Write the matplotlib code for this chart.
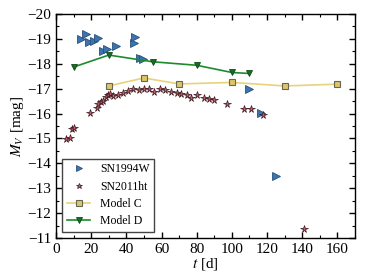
import matplotlib
matplotlib.use("Agg")
import matplotlib.pyplot as plt
from matplotlib.ticker import MultipleLocator

plt.rcParams['font.family'] = ['Liberation Serif', 'DejaVu Serif']
plt.rcParams['mathtext.fontset'] = 'stix'

# SN1994W
t_94w = [14.2, 17.0, 18.9, 21.5, 23.7, 26.5, 28.9, 34.1, 44.1, 45.0, 47.8, 49.5, 109.6, 116.3, 124.9]
m_94w = [-18.98, -19.19, -18.88, -18.92, -19.02, -18.52, -18.59, -18.71, -18.84, -19.06, -18.25, -18.19,
         -17.0, -16.02, -13.48]

# SN2011ht
t_11ht = [5.7, 8.1, 8.9, 10.4, 19.3, 23.1, 24.0, 25.5, 26.5, 28.4, 29.3, 30.8, 32.5, 35.0, 37.8,
          40.7, 43.9, 47.3, 50.1, 53.0, 55.8, 59.0, 61.9, 65.1, 68.5, 71.0, 74.2, 77.0, 79.9,
          84.0, 87.0, 89.7, 97.2, 106.7, 111.1, 117.7, 141.3]
m_11ht = [-14.96, -15.03, -15.36, -15.40, -16.04, -16.24, -16.37, -16.46, -16.50, -16.67, -16.73,
          -16.77, -16.71, -16.76, -16.84, -16.91, -16.98, -16.94, -16.98, -16.98, -16.87, -16.98,
          -16.96, -16.87, -16.83, -16.80, -16.76, -16.63, -16.73, -16.63, -16.60, -16.53, -16.37,
          -16.20, -16.20, -15.93, -11.38]

# Model C
t_c = [30, 50, 70, 100, 130, 160]
m_c = [-17.11, -17.43, -17.19, -17.25, -17.11, -17.18]

# Model D
t_d = [10, 30, 55, 80, 100, 110]
m_d = [-17.87, -18.35, -18.08, -17.94, -17.65, -17.61]

fig = plt.figure(figsize=(3.74, 2.80), dpi=100)
ax = fig.add_axes([0.15, 0.15, 0.799, 0.8])

ax.plot(t_94w, m_94w, ls='none', marker='>', ms=6, mfc='#3a75b0', mec='#2a4f78', mew=0.6,
        label='SN1994W')
ax.plot(t_11ht, m_11ht, ls='none', marker='*', ms=5.5, mfc='#c75a6a', mec='#3a1a20', mew=0.5,
        label='SN2011ht')
ax.plot(t_c, m_c, color='#e8d27a', lw=1.2, marker='s', ms=5, mfc='#dcc66a', mec='#666655',
        mew=0.8, label='Model C')
ax.plot(t_d, m_d, color='#1e8a2e', lw=1.2, marker='v', ms=5, mfc='#176e25', mec='#0e4a17',
        mew=0.6, label='Model D')

ax.set_xlim(0, 170)
ax.set_ylim(-11, -20)
ax.xaxis.set_major_locator(MultipleLocator(20))
ax.xaxis.set_minor_locator(MultipleLocator(10))
ax.yaxis.set_major_locator(MultipleLocator(1))
ax.yaxis.set_minor_locator(MultipleLocator(0.5))
ax.tick_params(which='both', direction='in', top=True, right=True, labelsize=11)
ax.tick_params(which='major', length=4, width=1)
ax.tick_params(which='minor', length=2, width=0.8)
for s in ax.spines.values():
    s.set_linewidth(1.0)

ax.set_xlabel('$t$ [d]', fontsize=11, labelpad=0)
ax.set_ylabel('$M_V$ [mag]', fontsize=11, labelpad=1)

leg = ax.legend(loc='lower left', fontsize=8.5, numpoints=1, fancybox=False, framealpha=1,
                borderaxespad=0.5, handlelength=2.0, labelspacing=0.45, markerscale=0.8)
leg.get_frame().set_edgecolor('#444444')

fig.savefig('out.png', dpi=100)
